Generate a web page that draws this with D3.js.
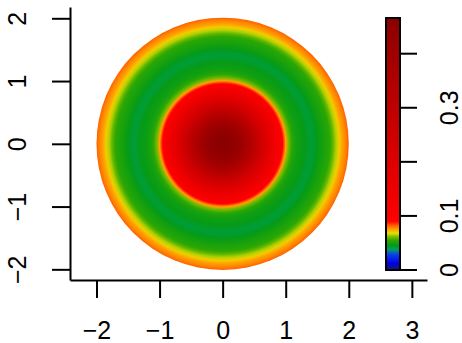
<!DOCTYPE html>
<html>
<head>
<meta charset="utf-8">
<script src="https://cdn.jsdelivr.net/npm/d3@7"></script>
<style>
  body { margin: 0; background: #fff; }
  svg { display: block; font-family: "Liberation Sans", Arial, sans-serif; }
</style>
</head>
<body>
<div id="chart"></div>
<script>
// tick values
const xTicks = [-2, -1, 0, 1, 2, 3];
const yTicks = [-2, -1, 0, 1, 2];
const keyTicks = [0, 0.1, 0.2, 0.3, 0.4];
const keyLabels = [0, 0.1, 0.3];

// radial profile of the surface (distance from origin -> value)
const radius = [0, 0.1, 0.2, 0.3, 0.4, 0.5, 0.6, 0.7, 0.8, 0.9, 0.95, 1.0, 1.05, 1.1, 1.15,
  1.2, 1.3, 1.4, 1.45, 1.5, 1.6, 1.7, 1.75, 1.8, 1.85, 1.9, 1.95, 2.0];
const density = [0.466, 0.46, 0.44, 0.41, 0.36, 0.31, 0.25, 0.2, 0.15, 0.11, 0.092, 0.075, 0.06, 0.054, 0.05,
  0.048, 0.046, 0.042, 0.043, 0.046, 0.05, 0.054, 0.059, 0.065, 0.07, 0.075, 0.078, 0.082];

// colour key
const stopValues = [0, 0.012, 0.028, 0.038, 0.045, 0.055, 0.062, 0.068, 0.075, 0.082, 0.09, 0.466];
const stopColors = ["#191970", "#0000e0", "#0a3cf0", "#00a060", "#009a1a", "#30a800", "#80c000",
  "#e8e000", "#ffa000", "#ff6000", "#ff0000", "#8b0000"];

var width = 462, height = 343;

var svg = d3.select("#chart")
  .append("svg")
  .attr("width", width)
  .attr("height", height);

svg.append("rect").attr("width", width).attr("height", height).attr("fill", "#fff");

var x = d3.scaleLinear().domain([-2.42, 3.24]).range([70, 427]);
var y = d3.scaleLinear().domain([-2.17, 2.18]).range([280, 7]);
var color = d3.scaleLinear().domain(stopValues).range(stopColors).clamp(true);

var defs = svg.append("defs");

// the disk: radial gradient built from the profile
var rMax = d3.max(radius);
var grad = defs.append("radialGradient")
  .attr("id", "disk")
  .attr("gradientUnits", "userSpaceOnUse")
  .attr("cx", x(0)).attr("cy", y(0))
  .attr("r", x(rMax) - x(0));
grad.selectAll("stop")
  .data(radius)
  .join("stop")
  .attr("offset", (d) => d / rMax)
  .attr("stop-color", (d, i) => color(density[i]));

svg.append("circle")
  .attr("cx", x(0))
  .attr("cy", y(0))
  .attr("r", x(rMax) - x(0))
  .attr("fill", "url(#disk)");

// axes
var xAxis = svg.append("g")
  .attr("transform", "translate(0,280)")
  .call(d3.axisBottom(x).tickValues(xTicks).tickSize(18).tickSizeOuter(0).tickFormat(d3.format("")));
xAxis.selectAll("text").attr("y", 0).attr("dy", null)
  .attr("transform", "translate(0,59)");

var yAxis = svg.append("g")
  .attr("transform", "translate(70,0)")
  .call(d3.axisLeft(y).tickValues(yTicks).tickSize(18).tickSizeOuter(0).tickFormat(d3.format("")));
yAxis.selectAll("text")
  .attr("x", null).attr("dy", null).attr("y", null)
  .attr("text-anchor", "middle")
  .attr("transform", "translate(-44,0) rotate(-90)");

svg.selectAll(".domain, .tick line").attr("stroke", "#000").attr("stroke-width", 2);
svg.selectAll("g").attr("font-size", null).attr("font-family", null);
svg.selectAll(".tick text").style("font-size", "25px").attr("fill", "#000");

// colour key
var k = d3.scaleLinear().domain([0, 0.466]).range([270, 18]);
var kgrad = defs.append("linearGradient")
  .attr("id", "key")
  .attr("gradientUnits", "userSpaceOnUse")
  .attr("x1", 0).attr("x2", 0)
  .attr("y1", k(0)).attr("y2", k(0.466));
kgrad.selectAll("stop")
  .data(stopValues)
  .join("stop")
  .attr("offset", (d) => d / 0.466)
  .attr("stop-color", (d, i) => stopColors[i]);

svg.append("rect")
  .attr("x", 386).attr("y", k(0.466))
  .attr("width", 14).attr("height", k(0) - k(0.466))
  .attr("fill", "url(#key)")
  .attr("stroke", "#000").attr("stroke-width", 2);

svg.append("g").selectAll("line")
  .data(keyTicks)
  .join("line")
  .attr("x1", 400).attr("x2", 417)
  .attr("y1", (d) => k(d)).attr("y2", (d) => k(d))
  .attr("stroke", "#000").attr("stroke-width", 2);

svg.append("g").selectAll("text")
  .data(keyLabels)
  .join("text")
  .attr("transform", (d) => "translate(458," + k(d) + ") rotate(-90)")
  .attr("text-anchor", "middle")
  .style("font-size", "25px")
  .text(d3.format(""));
</script>
</body>
</html>
